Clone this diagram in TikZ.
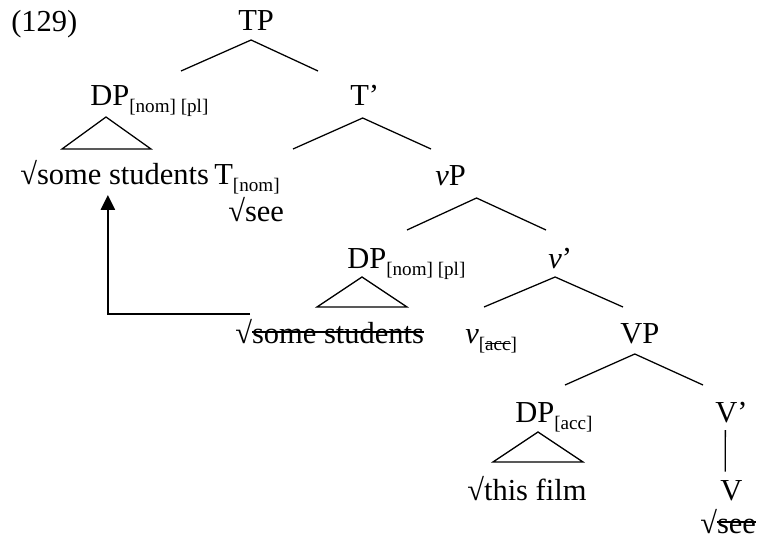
\documentclass[tikz,border=0pt]{standalone}
\usepackage{fontspec}
\setmainfont{Liberation Serif}
\usepackage{tikz}
\usetikzlibrary{arrows.meta}

\newlength{\strikew}
\newcommand{\struck}[1]{\settowidth{\strikew}{#1}\rlap{\rule[0.32em]{\strikew}{0.06em}}#1}
\newcommand{\feat}[1]{\raisebox{-5pt}{\fontsize{13.6}{15}\selectfont #1}}

\begin{document}
\begin{tikzpicture}[
  font=\fontsize{21.7}{26}\selectfont,
  lab/.style={anchor=base west, inner sep=0pt},
  branch/.style={line width=0.9pt},
  move/.style={-{Triangle[length=0.37cm, width=0.35cm]}, line width=1.5pt}
]
\useasboundingbox (0,0) rectangle (18.925,13.525);

\node[lab] (ex) at (0.275,12.725) {(129)};
\node[lab] (tp) at (5.95,12.75) {TP};
\node[lab] (dpa) at (2.25,10.9) {DP\feat{[nom] [pl]}};
\node[lab] (tbar) at (8.75,10.9) {T’};
\node[lab] (subja) at (0.5,8.925) {√some students};
\node[lab] (thead) at (5.35,8.925) {T\feat{[nom]}};
\node[lab] (seea) at (5.7,8.0) {√see};
\node[lab] (vp) at (10.875,8.9) {\textit{v}P};
\node[lab] (dpb) at (8.675,6.825) {DP\feat{[nom] [pl]}};
\node[lab] (vbar) at (13.7,6.825) {\textit{v}’};
\node[lab] (subjb) at (5.875,4.95) {√\struck{some students}};
\node[lab] (vhead) at (11.625,4.95) {\textit{v}\feat{[\struck{acc}]}};
\node[lab] (vpbig) at (15.5,4.95) {VP};
\node[lab] (dpc) at (12.875,2.975) {DP\feat{[acc]}};
\node[lab] (Vbar) at (17.875,2.975) {V’};
\node[lab] (obj) at (11.675,1.025) {√this film};
\node[lab] (Vhead) at (18.0,1.025) {V};
\node[lab] (seeb) at (17.5,0.2) {√\struck{see}};

\coordinate (tp-l) at (4.525,11.75);
\coordinate (tp-r) at (7.95,11.75);
\coordinate (tbar-l) at (7.325,9.8);
\coordinate (tbar-r) at (10.775,9.8);
\coordinate (vp-l) at (10.175,7.775);
\coordinate (vp-r) at (13.65,7.775);
\coordinate (vbar-l) at (12.1,5.85);
\coordinate (vbar-r) at (15.575,5.85);
\coordinate (vpbig-l) at (14.125,3.9);
\coordinate (vpbig-r) at (17.575,3.9);
\coordinate (dpa-l) at (1.55,9.8);
\coordinate (dpa-r) at (3.775,9.8);
\coordinate (dpb-l) at (7.925,5.85);
\coordinate (dpb-r) at (10.175,5.85);
\coordinate (dpc-l) at (12.325,1.975);
\coordinate (dpc-r) at (14.575,1.975);

\draw[branch] (tp-l) -- ([xshift=-0.125cm,yshift=-0.225cm]tp.base) -- (tp-r);
\draw[branch] (tbar-l) -- ([xshift=-0.05cm,yshift=-0.325cm]tbar.base) -- (tbar-r);
\draw[branch] (vp-l) -- ([xshift=0.65cm,yshift=-0.325cm]vp.base) -- (vp-r);
\draw[branch] (vbar-l) -- ([xshift=-0.125cm,yshift=-0.225cm]vbar.base) -- (vbar-r);
\draw[branch] (vpbig-l) -- ([xshift=-0.125cm,yshift=-0.275cm]vpbig.base) -- (vpbig-r);
\draw[branch] ([xshift=-0.15cm,yshift=-0.2cm]Vbar.base) -- ([xshift=-0.15cm,yshift=0.2cm]Vhead.north);

\draw[branch] (dpa-l) -- ([xshift=0.4cm,yshift=-0.3cm]dpa.base west) -- (dpa-r) -- cycle;
\draw[branch] (dpb-l) -- ([xshift=0.375cm,yshift=-0.225cm]dpb.base west) -- (dpb-r) -- cycle;
\draw[branch] (dpc-l) -- ([xshift=0.575cm,yshift=-0.25cm]dpc.base west) -- (dpc-r) -- cycle;

\draw[move] ([xshift=0.375cm,yshift=0.725cm]subjb.base west) -| ([xshift=-0.17cm,yshift=-0.275cm]subja.base);

\end{tikzpicture}
\end{document}
